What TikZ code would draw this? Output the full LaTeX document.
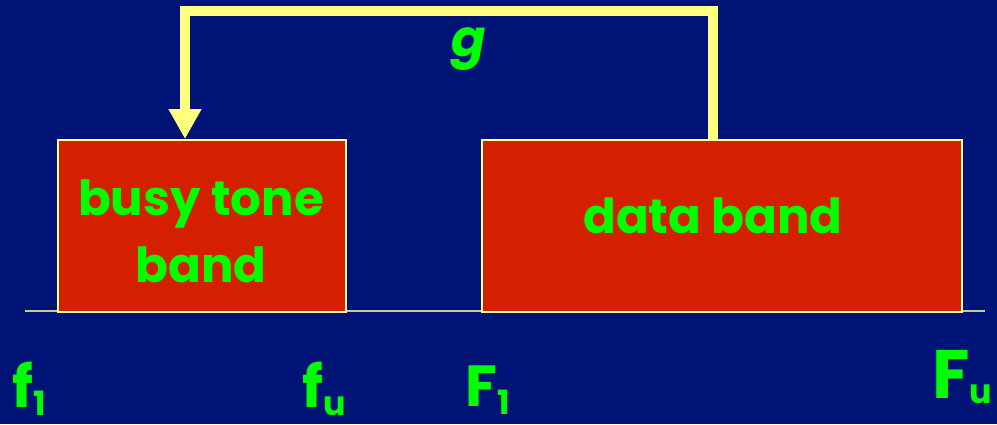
\documentclass[tikz,border=0pt]{standalone}
\usepackage{fontspec}
\setmainfont{Poppins}
\usetikzlibrary{arrows.meta,calc}
\definecolor{bgblue}{HTML}{001478}
\definecolor{bandred}{HTML}{D52000}
\definecolor{txtgreen}{HTML}{00FF00}
\definecolor{arrowyellow}{HTML}{FFFF80}
\definecolor{edgeyellow}{HTML}{FFFF99}
\definecolor{axisgray}{HTML}{C8C8A0}
\tikzset{
  band/.style={draw=edgeyellow, line width=1.1pt, fill=bandred, rectangle, inner sep=0pt,
    anchor=north west},
  bandtxt/.style={text=txtgreen, font=\bfseries\fontsize{27.5pt}{38pt}\selectfont, align=center, inner sep=0pt},
  fb/.style={draw=arrowyellow, line width=6.2pt, line join=miter,
    -{Triangle[width=0.62cm,length=0.6cm]}},
  axis/.style={draw=axisgray, line width=1.1pt},
  lbl/.style={text=txtgreen, font=\bfseries\fontsize{33pt}{36pt}\selectfont, inner sep=0pt, anchor=base west},
  glbl/.style={text=txtgreen, font=\bfseries\itshape\fontsize{29pt}{32pt}\selectfont, inner sep=0pt}
}
\newcommand{\sbs}[2][-5pt]{\raisebox{#1}{\fontsize{19pt}{21pt}\selectfont #2}}
\begin{document}
\begin{tikzpicture}[x=0.02cm,y=-0.02cm]
\fill[bgblue] (0,0) rectangle (997,424);
\useasboundingbox (0,0) rectangle (997,424);
\coordinate (ax0) at (25,311);
\coordinate (ax1) at (985,311);
\draw[axis] (ax0) -- (ax1);
\node[band, minimum width=5.76cm, minimum height=3.44cm] (bbox) at (57,139) {};
\node[bandtxt] (btxt) at (201,231) {busy tone\\band};
\node[band, minimum width=9.6cm, minimum height=3.44cm] (dbox) at (481,139) {};
\node[bandtxt] (dtxt) at (713,216) {data band};
\draw[fb] ($(dbox.north west)+(232,0)$) -- ++(0,-128) -| ($(bbox.north west)+(128,0)$);
\node[glbl] (g) at (469,49) {g};
\node[lbl] (f1) at (12,407) {f\sbs{1}};
\node[lbl] (fu) at (302,407) {f\sbs{u}};
\node[lbl] (F1) at (465,406) {F\sbs{1}};
\node[lbl, font=\bfseries\fontsize{39pt}{44pt}\selectfont] (Fu) at (932,398) {F\sbs[-3pt]{u}};
\end{tikzpicture}
\end{document}
